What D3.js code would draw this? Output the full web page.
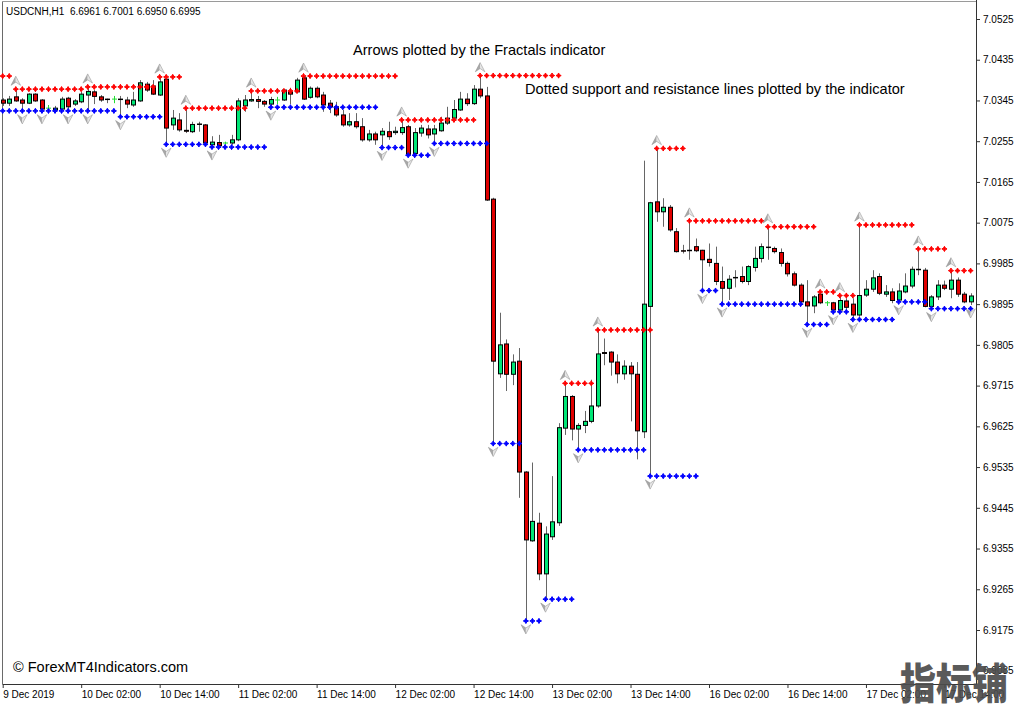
<!DOCTYPE html>
<html><head><meta charset="utf-8">
<script src="https://cdn.jsdelivr.net/npm/d3@7"></script>
<style>body{margin:0;background:#fff;}svg{display:block;}</style>
</head><body>
<svg id="c" width="1024" height="705"></svg>
<script>
const opens = [7.0346,7.0339,7.0353,7.0346,7.0339,7.0359,7.0346,7.0328,7.0324,7.0326,
7.0350,7.0337,7.0342,7.0357,7.0364,7.0353,7.0348,7.0348,7.0348,7.0346,
7.0335,7.0344,7.0381,7.0377,7.0357,7.0392,7.0291,7.0302,7.0279,7.0276,
7.0293,7.0291,7.0247,7.0252,7.0251,7.0251,7.0258,7.0333,7.0344,7.0347,
7.0343,7.0337,7.0346,7.0346,7.0364,7.0364,7.0395,7.0352,7.0372,7.0357,
7.0339,7.0331,7.0313,7.0291,7.0298,7.0287,7.0258,7.0271,7.0269,7.0276,
7.0274,7.0274,7.0287,7.0228,7.0273,7.0282,7.0271,7.0278,7.0295,7.0306,
7.0324,7.0348,7.0338,7.0370,7.0355,7.0127,6.9741,6.9807,6.9740,6.9769,
6.9524,6.9372,6.9411,6.9299,6.9381,6.9412,6.9621,6.9691,6.9619,6.9627,
6.9636,6.9670,6.9788,6.9789,6.9767,6.9741,6.9758,6.9740,6.9613,6.9890,
7.0121,7.0099,7.0109,7.0055,7.0013,7.0013,7.0022,7.0014,6.9994,6.9985,
6.9945,6.9930,6.9953,6.9956,6.9945,6.9976,6.9996,7.0020,7.0018,7.0009,
6.9985,6.9962,6.9937,6.9900,6.9891,6.9917,6.9898,6.9898,6.9882,6.9902,
6.9895,6.9871,6.9915,6.9928,6.9956,6.9917,6.9922,6.9904,6.9922,6.9935,
6.9972,6.9970,6.9890,6.9911,6.9937,6.9928,6.9948,6.9917,6.9900];
const highs = [7.0350,7.0355,7.0370,7.0350,7.0361,7.0361,7.0348,7.0335,7.0333,7.0353,
7.0353,7.0348,7.0364,7.0375,7.0368,7.0357,7.0349,7.0355,7.0355,7.0353,
7.0364,7.0390,7.0386,7.0390,7.0397,7.0395,7.0324,7.0317,7.0328,7.0298,
7.0298,7.0293,7.0266,7.0269,7.0254,7.0269,7.0350,7.0357,7.0366,7.0355,
7.0346,7.0353,7.0353,7.0370,7.0373,7.0395,7.0399,7.0376,7.0376,7.0364,
7.0346,7.0342,7.0324,7.0317,7.0317,7.0306,7.0280,7.0276,7.0284,7.0298,
7.0287,7.0302,7.0291,7.0284,7.0291,7.0291,7.0291,7.0309,7.0331,7.0346,
7.0364,7.0361,7.0379,7.0400,7.0375,7.0130,6.9876,6.9817,6.9784,6.9798,
6.9526,6.9545,6.9434,6.9404,6.9515,6.9632,6.9720,6.9694,6.9632,6.9659,
6.9728,6.9838,6.9819,6.9791,6.9784,6.9771,6.9767,6.9767,7.0212,7.0121,
7.0239,7.0129,7.0114,7.0063,7.0026,7.0079,7.0040,7.0015,7.0029,7.0022,
6.9978,6.9959,6.9970,6.9978,6.9981,7.0022,7.0029,7.0066,7.0022,7.0018,
6.9989,6.9967,6.9941,6.9948,6.9915,6.9922,6.9902,6.9900,6.9914,6.9908,
6.9908,7.0070,6.9948,6.9970,6.9963,6.9937,6.9930,6.9941,6.9963,6.9978,
7.0017,6.9975,6.9915,6.9948,6.9947,6.9969,6.9954,6.9922,6.9919];
const lows = [7.0333,7.0333,7.0342,7.0322,7.0337,7.0342,7.0322,7.0324,7.0323,7.0324,
7.0322,7.0333,7.0339,7.0322,7.0337,7.0342,7.0339,7.0339,7.0309,7.0328,
7.0331,7.0342,7.0364,7.0357,7.0355,7.0248,7.0280,7.0276,7.0273,7.0273,
7.0276,7.0247,7.0242,7.0244,7.0247,7.0247,7.0255,7.0320,7.0342,7.0328,
7.0331,7.0330,7.0337,7.0344,7.0337,7.0361,7.0346,7.0349,7.0350,7.0320,
7.0317,7.0309,7.0287,7.0287,7.0283,7.0254,7.0254,7.0247,7.0241,7.0258,
7.0269,7.0269,7.0224,7.0226,7.0265,7.0261,7.0250,7.0276,7.0291,7.0302,
7.0322,7.0333,7.0335,7.0350,7.0123,6.9587,6.9732,6.9703,6.9716,6.9467,
6.9195,6.9370,6.9285,6.9243,6.9374,6.9405,6.9606,6.9594,6.9573,6.9610,
6.9632,6.9666,6.9760,6.9737,6.9720,6.9728,6.9636,6.9552,6.9599,6.9515,
7.0077,7.0066,7.0055,7.0009,7.0007,6.9993,7.0010,6.9925,6.9978,6.9937,
6.9895,6.9904,6.9932,6.9941,6.9937,6.9967,6.9987,6.9993,7.0007,6.9978,
6.9956,6.9934,6.9893,6.9850,6.9875,6.9895,6.9891,6.9878,6.9879,6.9882,
6.9861,6.9867,6.9911,6.9922,6.9915,6.9911,6.9897,6.9900,6.9919,6.9930,
6.9959,6.9888,6.9885,6.9904,6.9926,6.9908,6.9911,6.9897,6.9893];
const closes = [7.0339,7.0348,7.0344,7.0339,7.0359,7.0344,7.0326,7.0328,7.0328,7.0348,
7.0331,7.0344,7.0359,7.0365,7.0354,7.0346,7.0347,7.0348,7.0347,7.0337,
7.0346,7.0384,7.0368,7.0359,7.0386,7.0284,7.0306,7.0280,7.0277,7.0292,
7.0292,7.0251,7.0253,7.0245,7.0251,7.0258,7.0344,7.0346,7.0347,7.0343,
7.0337,7.0347,7.0346,7.0368,7.0359,7.0390,7.0348,7.0372,7.0353,7.0335,
7.0331,7.0313,7.0291,7.0298,7.0287,7.0258,7.0271,7.0258,7.0277,7.0265,
7.0277,7.0285,7.0226,7.0274,7.0284,7.0269,7.0282,7.0295,7.0306,7.0325,
7.0348,7.0338,7.0370,7.0355,7.0125,6.9769,6.9805,6.9740,6.9767,6.9524,
6.9374,6.9415,6.9299,6.9387,6.9414,6.9622,6.9691,6.9619,6.9627,6.9636,
6.9670,6.9785,6.9786,6.9767,6.9741,6.9758,6.9741,6.9615,6.9895,7.0119,
7.0099,7.0109,7.0059,7.0011,7.0012,7.0014,7.0013,6.9993,6.9987,6.9945,
6.9930,6.9950,6.9954,6.9945,6.9978,6.9996,7.0022,7.0021,7.0011,6.9985,
6.9962,6.9937,6.9900,6.9891,6.9911,6.9898,6.9898,6.9882,6.9903,6.9888,
6.9871,6.9914,6.9928,6.9953,6.9919,6.9922,6.9903,6.9924,6.9935,6.9972,
6.9971,6.9890,6.9911,6.9937,6.9930,6.9948,6.9917,6.9900,6.9913];

const timeLabelBars = [0,12,24,36,48,60,72,84,96,108,120,132,144];
const timeLabels = ["9 Dec 2019","10 Dec 02:00","10 Dec 14:00","11 Dec 02:00","11 Dec 14:00",
"12 Dec 02:00","12 Dec 14:00","13 Dec 02:00","13 Dec 14:00","16 Dec 02:00","16 Dec 14:00",
"17 Dec 02:00","17 Dec 14:00"];
const priceTicks = [6.9085,6.9175,6.9265,6.9355,6.9445,6.9535,6.9625,6.9715,6.9805,6.9895,
6.9985,7.0075,7.0165,7.0255,7.0345,7.0435,7.0525];

const resStart = [0,2,13,24,28,38,46,61,73,86,91,100,105,117,125,128,131,140,145];
const resLevel = [7.0399,7.0370,7.0375,7.0397,7.0328,7.0366,7.0399,7.0302,7.0400,6.9720,
6.9838,7.0239,7.0079,7.0066,6.9922,6.9914,7.0070,7.0017,6.9969];
const supStart = [0,3,6,10,13,18,25,32,41,58,62,66,75,80,83,88,99,107,110,123,127,130,137,142];
const supLevel = [7.0322,7.0322,7.0322,7.0322,7.0322,7.0309,7.0248,7.0242,7.0330,7.0241,
7.0224,7.0250,6.9587,6.9195,6.9243,6.9573,6.9515,6.9925,6.9895,6.9850,6.9878,6.9861,6.9900,6.9885];
const upArrowBars = [2,13,24,28,38,46,61,73,86,91,100,105,117,125,128,131,140,145];
const downArrowBars = [3,6,10,13,18,25,32,41,58,62,66,75,80,83,88,99,107,110,123,127,130,137,142,148];

const headerText = "USDCNH,H1  6.6961 6.7001 6.6950 6.6995";
const note1 = "Arrows plotted by the Fractals indicator";
const note2 = "Dotted support and resistance lines plotted by the indicator";
const credit = "\u00A9 ForexMT4Indicators.com";
const watermark = "指标铺";

const svg = d3.select("#c");
const N = opens.length;
const x = d3.scaleLinear().domain([0, 148]).range([2.7, 970.6]);
const y = d3.scaleLinear().domain([6.9175, 7.0525]).range([630, 19]);
const FONT = "'Liberation Sans', Arial, sans-serif";

// frame
svg.append("line").attr("x1",2.5).attr("x2",976).attr("y1",1.5).attr("y2",1.5).attr("stroke","#9a9a9a");
svg.append("line").attr("x1",2.5).attr("x2",2.5).attr("y1",1.5).attr("y2",684).attr("stroke","#6a6a6a");

const bars = d3.range(N).map(i => ({i, o:opens[i], h:highs[i], l:lows[i], c:closes[i]}));
const g = svg.append("g");
const GREEN = "#00e676", RED = "#e00000", DOJI = "#22dd33";

g.selectAll("line.wick").data(bars).join("line")
  .attr("x1", d => Math.round(x(d.i)) + 0.5).attr("x2", d => Math.round(x(d.i)) + 0.5)
  .attr("y1", d => y(d.h)).attr("y2", d => y(d.l))
  .attr("stroke", d => d.o === d.c ? DOJI : "#666").attr("stroke-width", 1);

g.selectAll("rect.body").data(bars.filter(d => d.o !== d.c)).join("rect")
  .attr("x", d => Math.round(x(d.i)) - 1.5)
  .attr("width", 4)
  .attr("y", d => y(Math.max(d.o, d.c)))
  .attr("height", d => Math.max(0.01, Math.abs(y(d.o) - y(d.c))))
  .attr("fill", d => d.c > d.o ? GREEN : RED)
  .attr("stroke", "#000").attr("stroke-width", 1);

g.selectAll("line.doji").data(bars.filter(d => d.o === d.c)).join("line")
  .attr("x1", d => Math.round(x(d.i)) - 2).attr("x2", d => Math.round(x(d.i)) + 3)
  .attr("y1", d => y(d.o)).attr("y2", d => y(d.o))
  .attr("stroke", DOJI).attr("stroke-width", 1);

// dotted S/R lines
function dots(starts, levels) {
  const out = [];
  starts.forEach((s, k) => {
    const e = k + 1 < starts.length ? starts[k + 1] - 1 : N - 1;
    for (let i = s; i <= e; i++) out.push({i, v: levels[k]});
  });
  return out;
}
const dotPath = "M0,-2.6L0.9,-0.9L2.6,0L0.9,0.9L0,2.6L-0.9,0.9L-2.6,0L-0.9,-0.9Z";
g.selectAll("path.res").data(dots(resStart, resLevel)).join("path")
  .attr("d", dotPath).attr("transform", d => `translate(${x(d.i)},${y(d.v)})`)
  .attr("fill", "#ff0000").attr("stroke", "#ff0000").attr("stroke-width", 1);
g.selectAll("path.sup").data(dots(supStart, supLevel)).join("path")
  .attr("d", dotPath).attr("transform", d => `translate(${x(d.i)},${y(d.v)})`)
  .attr("fill", "#0000ff").attr("stroke", "#0000ff").attr("stroke-width", 1);

// fractal arrows
function arrow(sel, data, up) {
  const s = up ? 1 : -1;
  const gg = sel.selectAll(null).data(data).join("g")
    .attr("transform", d => `translate(${x(d)},${up ? y(highs[d]) - 8 : y(lows[d]) + 8})`);
  gg.append("path").attr("d", `M0,${-5*s}L-4.8,${4.2*s}L0,${1*s}Z`).attr("fill", "#a8a8a8");
  gg.append("path").attr("d", `M0,${-5*s}L4.8,${4.2*s}L0,${1*s}Z`).attr("fill", "#e4e4e4");
  gg.append("path").attr("d", `M0,${-5*s}L4.8,${4.2*s}L0,${1*s}L-4.8,${4.2*s}Z`)
    .attr("fill", "none").attr("stroke", "#8c8c8c").attr("stroke-width", 0.5);
}
arrow(svg.append("g"), upArrowBars, true);
arrow(svg.append("g"), downArrowBars, false);

// axes
const ya = svg.append("g").attr("transform", "translate(976,0)")
  .call(d3.axisRight(y).tickValues(priceTicks).tickFormat(d3.format(".4f")).tickSize(4));
ya.select(".domain").remove();
ya.selectAll("text").attr("font-family", FONT).attr("font-size", 10).attr("fill", "#000");
ya.selectAll("line").attr("stroke", "#333");
svg.append("line").attr("x1",976.5).attr("x2",976.5).attr("y1",0).attr("y2",684.5).attr("stroke","#333");

const xa = svg.append("g").attr("transform", "translate(0,684)")
  .call(d3.axisBottom(x).tickValues(timeLabelBars).tickFormat((d, k) => timeLabels[k]).tickSize(4));
xa.select(".domain").remove();
xa.selectAll("text").attr("font-family", FONT).attr("font-size", 10).attr("fill", "#000")
  .attr("text-anchor", "start").attr("x", 0);
xa.selectAll("line").attr("stroke", "#333");
svg.append("line").attr("x1",2.5).attr("x2",976.5).attr("y1",684.5).attr("y2",684.5).attr("stroke","#333");

// texts
svg.append("text").attr("x", 6).attr("y", 15).attr("font-family", FONT).attr("font-size", 10)
  .style("white-space", "pre").text(headerText);
svg.append("text").attr("x", 353).attr("y", 55).attr("font-family", FONT).attr("font-size", 14.6).text(note1);
svg.append("text").attr("x", 525).attr("y", 94).attr("font-family", FONT).attr("font-size", 14.6).text(note2);
svg.append("text").attr("x", 13).attr("y", 672).attr("font-family", FONT).attr("font-size", 14.5).text(credit);
svg.append("text").attr("transform", "translate(900,699) scale(1,1.18)")
  .attr("font-family", "'Noto Sans CJK SC', sans-serif")
  .attr("font-weight", 900).attr("font-size", 36).attr("fill", "#4d4d4d").attr("opacity", 0.92).text(watermark);
</script>
</body></html>
